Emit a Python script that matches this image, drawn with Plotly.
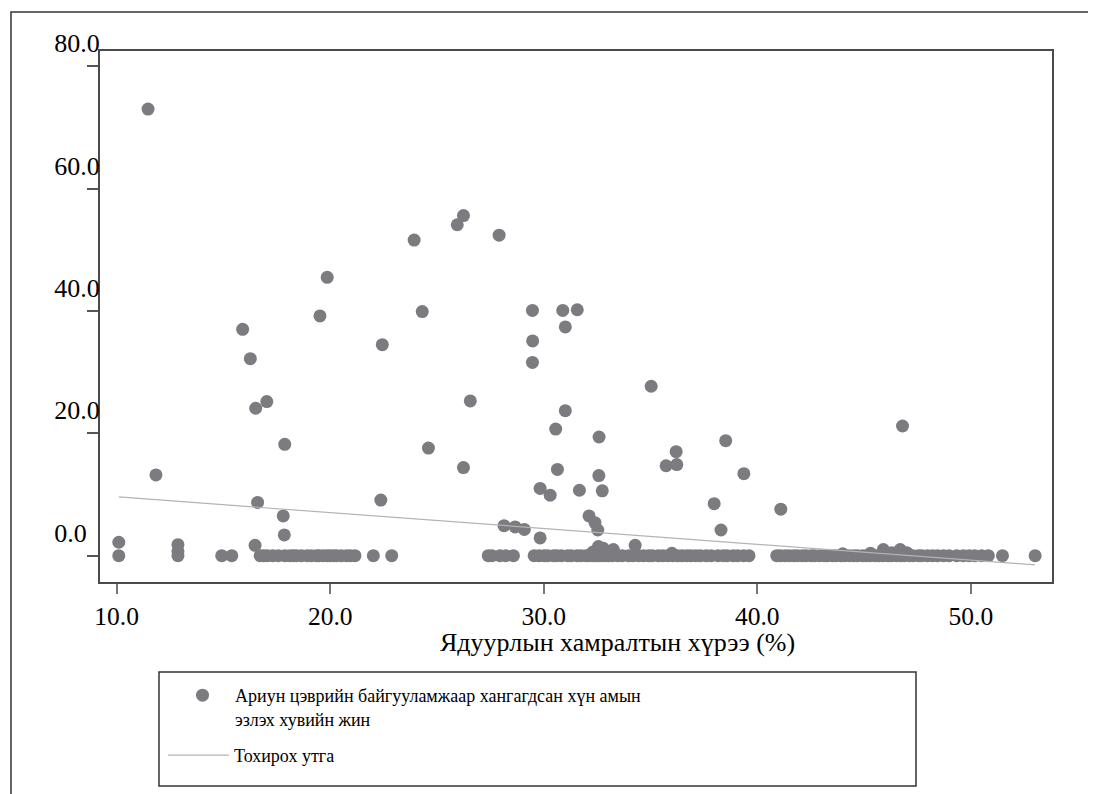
import plotly.graph_objects as go

# ---------------- data ----------------
# points clearly above the zero band
upper_x = [11.47, 11.84, 10.10, 12.87, 12.87, 16.48, 16.60, 16.51, 17.03, 17.87,
           17.80, 17.85, 15.90, 16.26, 19.52, 19.86, 22.37, 22.44, 23.93, 24.31,
           24.60, 25.95, 26.24, 26.24, 26.56, 27.91, 28.14, 28.66, 29.09, 29.47,
           29.48, 29.47, 29.83, 29.83, 30.30, 30.56, 30.64, 30.89, 31.01, 31.01,
           31.57, 31.67, 32.12, 32.40, 32.53, 32.59, 32.58, 32.74, 35.03, 35.73,
           36.20, 36.23, 37.98, 38.30, 38.52, 39.37, 41.10, 46.80]
upper_y = [73.0, 13.2, 2.2, 1.8, 0.7, 1.7, 8.7, 24.1, 25.2, 18.2,
           6.5, 3.4, 37.0, 32.2, 39.2, 45.5, 9.1, 34.5, 51.6, 39.9,
           17.6, 54.1, 55.6, 14.4, 25.3, 52.4, 4.9, 4.7, 4.3, 40.1,
           35.1, 31.6, 11.0, 2.9, 9.9, 20.7, 14.1, 40.1, 37.4, 23.7,
           40.2, 10.7, 6.5, 5.4, 4.2, 19.4, 13.1, 10.6, 27.7, 14.7,
           17.0, 14.9, 8.5, 4.2, 18.8, 13.4, 7.6, 21.2]

# points slightly above zero
low_x = [32.30, 32.56, 32.79, 33.26, 34.28, 36.00, 44.00, 45.30, 45.90, 46.30, 46.69, 47.00]
low_y = [0.6, 1.5, 1.2, 1.0, 1.7, 0.4, 0.3, 0.4, 1.0, 0.5, 1.0, 0.5]

# points on the zero band
zero_x = [10.10, 12.87, 14.92, 15.39, 16.72, 16.88, 17.05, 17.31, 17.57, 17.88,
          18.12, 18.28, 18.43, 18.66, 18.93, 19.13, 19.37, 19.49, 19.68, 19.86,
          19.99, 20.17, 20.30, 20.52, 20.77, 20.94, 21.16, 22.02, 22.88,
          27.40, 27.57, 27.95, 28.22, 28.58,
          29.55, 29.78, 30.02, 30.19, 30.46, 30.61, 30.83, 31.12, 31.29, 31.56,
          31.74, 31.97, 32.08, 32.27, 32.41, 32.57, 32.72, 32.88, 33.02, 33.21,
          33.46, 33.68, 33.97, 34.18, 34.44, 34.67, 34.91, 35.08, 35.36, 35.58,
          35.81, 36.04, 36.27, 36.48, 36.71, 36.89, 37.12, 37.33, 37.61, 37.84,
          38.16, 38.41, 38.58, 38.87, 39.08, 39.36, 39.61,
          40.91, 41.08, 41.31, 41.49, 41.72, 41.88, 42.11, 42.29, 42.52, 42.68,
          42.91, 43.12, 43.28, 43.51, 43.69, 43.92, 44.08, 44.31, 44.52, 44.69,
          44.93, 45.11, 45.28, 45.52, 45.71, 45.89, 46.12, 46.28, 46.51, 46.72,
          46.88, 47.13, 47.29, 47.55,
          47.70, 47.96, 48.21, 48.44, 48.72, 48.98, 49.34,
          49.65, 49.92, 50.18, 50.51, 50.82,
          51.48, 53.01]
zero_y = [0.0] * len(zero_x)

scatter_x = upper_x + low_x + zero_x
scatter_y = upper_y + low_y + zero_y

# fitted line end points
fit_x = [10.1, 53.0]
fit_y = [9.6, -1.5]

y_tick_vals = [0, 20, 40, 60, 80]
y_tick_text = ["0.0\u2007", "20.0", "40.0", "60.0", "80.0"]
x_tick_vals = [10, 20, 30, 40, 50]
x_tick_text = ["10.0", "20.0", "30.0", "40.0", "50.0"]

x_title = "Ядуурлын хамралтын хүрээ (%)"
series_name = "Ариун цэврийн байгууламжаар хангагдсан хүн амын<br>эзлэх хувийн жин"
fit_name = "Тохирох утга"

# ---------------- figure ----------------
FONT = "Liberation Serif, Times New Roman, serif"
# page body has an 8px margin: the figure is 8px smaller, screen coords map 1:1
W, H = 1088, 786
L, R, T, B = 92, 44, 43, 212
PW, PH = W - L - R, H - T - B


def px(xs):  # screen x -> paper
    return (xs - 8 - L) / PW


def py(ys):  # screen y -> paper
    return (H - B - (ys - 8)) / PH


fig = go.Figure()
fig.add_trace(go.Scatter(
    x=scatter_x, y=scatter_y, mode="markers", name=series_name,
    marker=dict(size=13, color="#7b7b80", line=dict(width=0)),
    legend="legend",
))
fig.add_trace(go.Scatter(
    x=fit_x, y=fit_y, mode="lines", name=fit_name,
    line=dict(color="#b4b4b4", width=1.2),
    legend="legend2",
))

legend_common = dict(
    xanchor="left", yanchor="top",
    font=dict(family=FONT, size=18, color="black"),
    bgcolor="rgba(0,0,0,0)", borderwidth=0, tracegroupgap=0,
)

fig.update_layout(
    width=W, height=H,
    margin=dict(l=L, r=R, t=T, b=B, pad=0),
    paper_bgcolor="white", plot_bgcolor="white",
    font=dict(family=FONT, color="black", size=26),
    showlegend=True,
    legend=dict(x=px(170), y=py(677), valign="top", itemwidth=55, **legend_common),
    legend2=dict(x=px(163), y=py(737), valign="middle", itemwidth=61, **legend_common),
    xaxis=dict(
        range=[9.22, 53.8], tickvals=x_tick_vals, ticktext=x_tick_text,
        showgrid=False, zeroline=False,
        showline=True, mirror=True, linecolor="#4a4a4a", linewidth=2,
        ticks="outside", ticklen=10, tickwidth=1.5, tickcolor="#777777",
        tickfont=dict(family=FONT, size=25.5, color="black"),
    ),
    yaxis=dict(
        range=[-4.3, 82.5], tickvals=y_tick_vals, ticktext=y_tick_text,
        showgrid=False, zeroline=False,
        showline=True, mirror=True, linecolor="#4a4a4a", linewidth=2,
        ticks="outside", ticklen=11, tickwidth=1.5, tickcolor="#555555",
        tickfont=dict(family=FONT, size=26, color="black"),
        ticklabelshift=-23, ticklabelstandoff=-18,
    ),
    annotations=[dict(
        text=x_title, xref="paper", yref="paper",
        x=px(617.5), y=py(642), xanchor="center", yanchor="middle",
        showarrow=False, font=dict(family=FONT, size=26, color="black"),
    )],
    shapes=[
        # outer frame
        dict(type="rect", xref="paper", yref="paper",
             x0=px(11), x1=px(1110), y0=py(12), y1=py(810),
             line=dict(color="#333333", width=1.5), fillcolor="rgba(0,0,0,0)",
             layer="above"),
        # legend box
        dict(type="rect", xref="paper", yref="paper",
             x0=px(159), x1=px(916), y0=py(672), y1=py(786),
             line=dict(color="#333333", width=1.5), fillcolor="rgba(0,0,0,0)",
             layer="above"),
    ],
)

fig.write_html("out.html")
